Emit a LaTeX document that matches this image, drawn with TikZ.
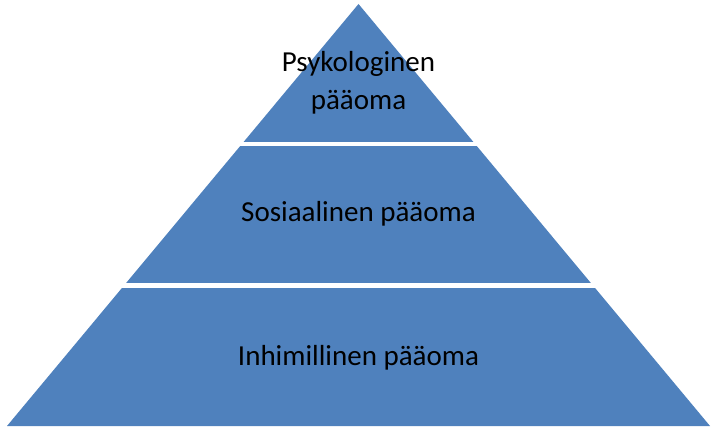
\documentclass[tikz,border=0pt]{standalone}
\usepackage{fontspec}
\setmainfont{Carlito}
\definecolor{pyrblue}{HTML}{4F81BD}
\begin{document}
\begin{tikzpicture}[x=1pt,y=-1pt,
  label/.style={font=\fontsize{29}{38}\selectfont, text=black, inner sep=0pt, align=center}]
\useasboundingbox (0,0) rectangle (717,430);
\coordinate (apex) at (358.5,4);
\coordinate (bl) at (7,426);
\coordinate (br) at (710,426);
\fill[pyrblue] (apex) -- (br) -- (bl) -- cycle;
\fill[white] (0,142) rectangle (717,146);
\fill[white] (0,283) rectangle (717,288);
\node[label, anchor=base] (top) at (358.5,110) {Psykologinen\\pääoma};
\node[label, anchor=base] (mid) at (358.5,222) {Sosiaalinen pääoma};
\node[label, anchor=base] (bot) at (358.5,365) {Inhimillinen pääoma};
\end{tikzpicture}
\end{document}
